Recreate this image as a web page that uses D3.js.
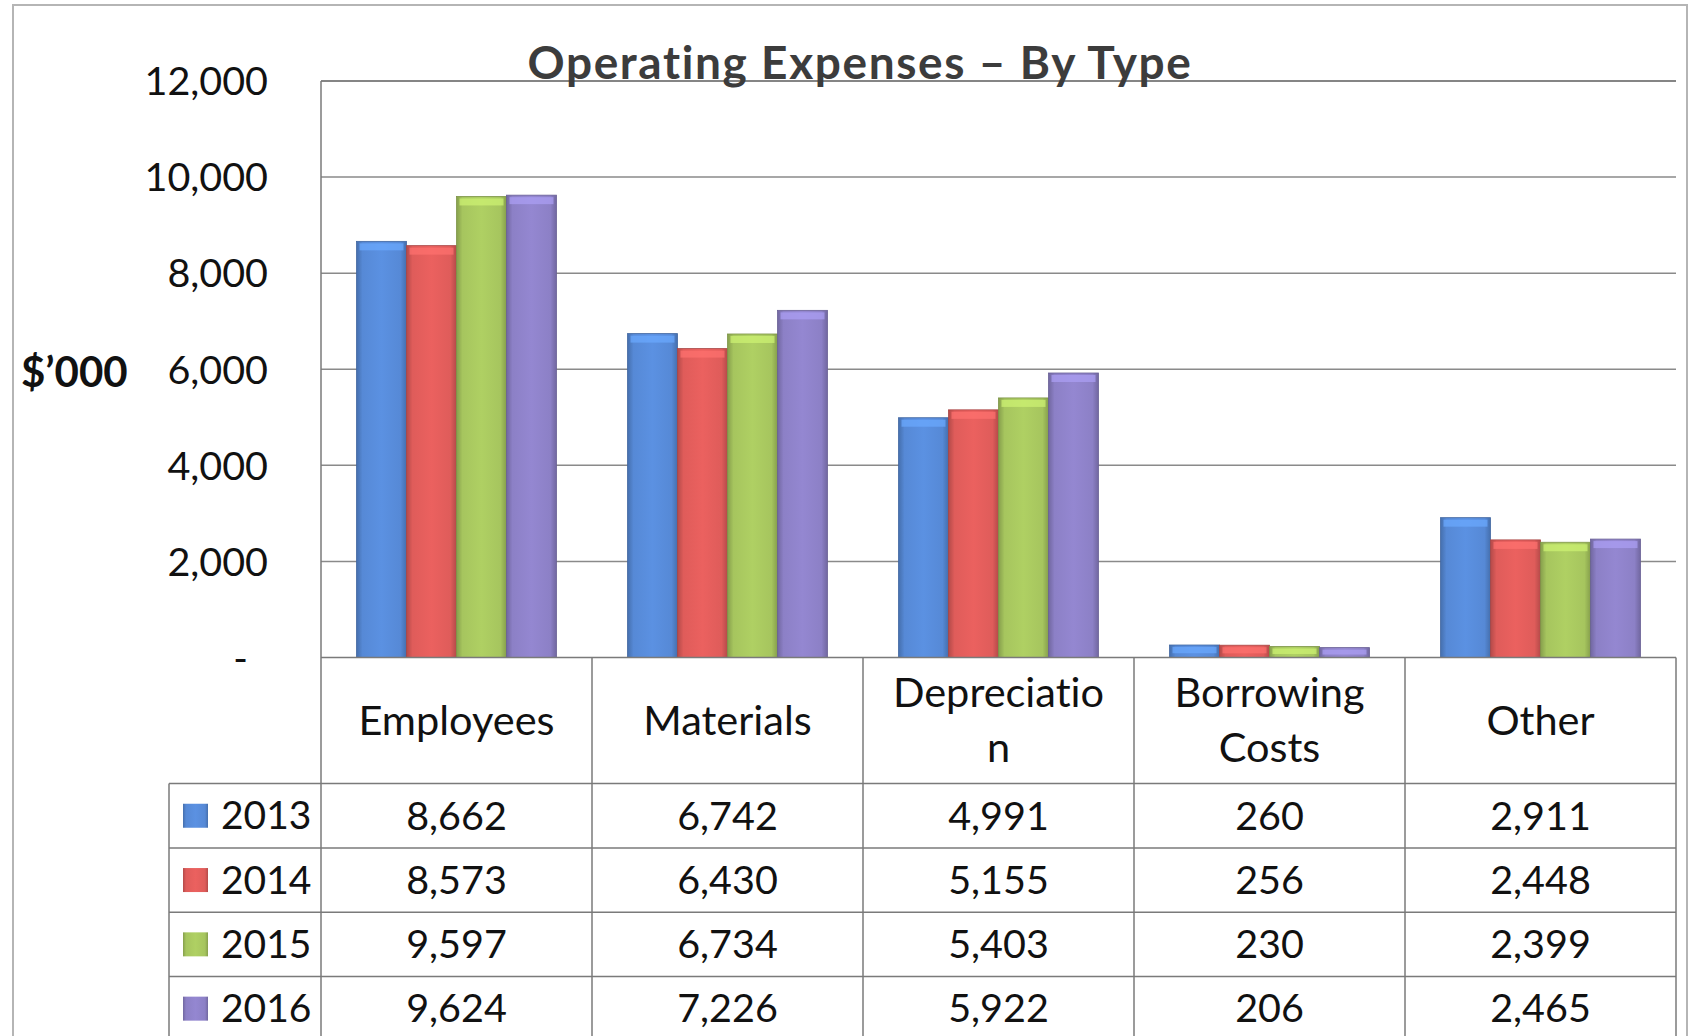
<!DOCTYPE html>
<html>
<head>
<meta charset="utf-8">
<script src="https://d3js.org/d3.v7.min.js"></script>
<style>
	body { margin: 0; background: #fff; }
	text { font-family: Lato, "Open Sans", sans-serif; fill: #111; font-variant-ligatures: none; }
	.title { font-weight: bold; fill: #3c3c3c; }
	.grid line { stroke: #8a8a8a; stroke-width: 1.5; }
	.tbl { stroke: #7a7a7a; stroke-width: 1.5; }
</style>
</head>
<body>
<script>

	var categories = ["Employees", "Materials", "Depreciation", "Borrowing Costs", "Other"];
	// header text as it wraps in the table
	var categoryLines = [["Employees"], ["Materials"], ["Depreciatio", "n"], ["Borrowing", "Costs"], ["Other"]];
	var years = ["2013", "2014", "2015", "2016"];
	var v2013 = [8662, 6742, 4991, 260, 2911];
	var v2014 = [8573, 6430, 5155, 256, 2448];
	var v2015 = [9597, 6734, 5403, 230, 2399];
	var v2016 = [9624, 7226, 5922, 206, 2465];
	var series = [v2013, v2014, v2015, v2016];
	var yTicks = [0, 2000, 4000, 6000, 8000, 10000, 12000];
	var colors = ["#5689d6", "#df5c5a", "#a6c55e", "#8c80c6"];

	var width = 1690,
	height = 1036;

	var svg = d3.select("body").append("svg")
	.attr("width", width)
	.attr("height", height);

	var defs = svg.append("defs");
	colors.forEach(function(c, i) {
		var g = defs.append("linearGradient")
		.attr("id", "bar" + i)
		.attr("x1", "0").attr("x2", "1").attr("y1", "0").attr("y2", "0");
		g.append("stop").attr("offset", "0").attr("stop-color", d3.color(c).darker(0.6));
		g.append("stop").attr("offset", "0.12").attr("stop-color", c);
		g.append("stop").attr("offset", "0.5").attr("stop-color", d3.color(c).brighter(0.15));
		g.append("stop").attr("offset", "0.88").attr("stop-color", c);
		g.append("stop").attr("offset", "1").attr("stop-color", d3.color(c).darker(0.6));
	});

	// outer frame
	svg.append("rect")
	.attr("x", 13).attr("y", 5)
	.attr("width", 1674).attr("height", 1040)
	.attr("fill", "none")
	.attr("stroke", "#b5b5b5")
	.attr("stroke-width", 2);

	var plotLeft = 321, plotRight = 1676;

	var x0 = d3.scaleBand()
	.domain(categories)
	.range([plotLeft, plotRight]);

	var x1 = d3.scaleBand()
	.domain(years)
	.range([0, x0.bandwidth()])
	.paddingOuter(0.71);

	var y = d3.scaleLinear()
	.domain([0, 12000])
	.range([657.5, 81]);

	// gridlines
	svg.append("g")
	.attr("class", "grid")
	.selectAll("line")
	.data(yTicks.filter(function(d) { return d > 0; }))
	.enter().append("line")
	.attr("x1", plotLeft).attr("x2", plotRight)
	.attr("y1", function(d) { return y(d); })
	.attr("y2", function(d) { return y(d); });

	// y axis labels
	var yAxis = d3.axisLeft(y)
	.tickValues(yTicks)
	.tickSize(0)
	.tickPadding(0)
	.tickFormat(function(d) { return d == 0 ? "-" : d3.format(",")(d); });

	var ya = svg.append("g")
	.attr("transform", "translate(268,0)")
	.call(yAxis);
	ya.select(".domain").remove();
	ya.selectAll("text")
	.attr("font-size", 39.5)
	.attr("font-family", "Lato")
	.attr("fill", "#111")
	.attr("dy", "0.35em")
	.attr("dx", function(d) { return d == 0 ? -20 : 0; });

	svg.append("text")
	.attr("x", 21).attr("y", 372)
	.attr("dy", "0.35em")
	.attr("font-size", 42)
	.attr("font-weight", "bold")
	.attr("fill", "#222")
	.text("$\u2019000");

	// bars
	var groups = svg.selectAll(".cat")
	.data(categories)
	.enter().append("g")
	.attr("class", "cat")
	.attr("transform", function(d) { return "translate(" + x0(d) + ",0)"; });

	groups.each(function(cat, ci) {
		var g = d3.select(this);
		years.forEach(function(yr, si) {
			var v = series[si][ci];
			var bx = x1(yr), bw = x1.bandwidth();
			g.append("rect")
			.attr("x", bx).attr("y", y(v))
			.attr("width", bw).attr("height", y(0) - y(v))
			.attr("fill", "url(#bar" + si + ")")
			.attr("stroke", d3.color(colors[si]).darker(0.8))
			.attr("stroke-width", 0.8);
			// bevel highlight on top
			g.append("rect")
			.attr("x", bx + 3).attr("y", y(v) + 2)
			.attr("width", bw - 6).attr("height", Math.min(7, (y(0) - y(v)) / 2))
			.attr("fill", d3.color(colors[si]).brighter(0.6))
			.attr("opacity", 0.7);
		});
	});

	// plot frame: top border
	svg.append("line").attr("class", "tbl")
	.attr("x1", plotLeft).attr("x2", plotRight).attr("y1", y(12000)).attr("y2", y(12000));

	// title
	svg.append("text")
	.attr("class", "title")
	.attr("x", 860).attr("y", 79)
	.attr("text-anchor", "middle")
	.attr("font-size", 46)
	.attr("letter-spacing", 1.6)
	.text("Operating Expenses \u2013 By Type");

	// data table
	var rowTop = 783.6, rowH = 64.3, legendLeft = 169;
	var rowY = years.map(function(d, i) { return rowTop + i * rowH; });

	svg.append("line").attr("class", "tbl")
	.attr("x1", plotLeft).attr("x2", plotLeft).attr("y1", y(12000)).attr("y2", height);
	svg.append("line").attr("class", "tbl")
	.attr("x1", plotLeft).attr("x2", plotRight).attr("y1", y(0)).attr("y2", y(0));

	svg.selectAll(".hline")
	.data(rowY)
	.enter().append("line")
	.attr("class", "tbl")
	.attr("x1", legendLeft).attr("x2", plotRight)
	.attr("y1", function(d) { return d; }).attr("y2", function(d) { return d; });

	svg.append("line").attr("class", "tbl")
	.attr("x1", legendLeft).attr("x2", legendLeft).attr("y1", rowTop).attr("y2", height);

	svg.selectAll(".vline")
	.data(categories)
	.enter().append("line")
	.attr("class", "tbl")
	.attr("x1", function(d) { return x0(d) + x0.bandwidth(); })
	.attr("x2", function(d) { return x0(d) + x0.bandwidth(); })
	.attr("y1", y(0)).attr("y2", height);

	// category headers
	categoryLines.forEach(function(lines, ci) {
		var cx = x0(categories[ci]) + x0.bandwidth() / 2;
		lines.forEach(function(t, li) {
			var cy = lines.length == 1 ? 720 : (li == 0 ? 692 : 747);
			svg.append("text")
			.attr("x", cx).attr("y", cy)
			.attr("dy", "0.35em")
			.attr("text-anchor", "middle")
			.attr("font-size", 41.5)
			.text(t);
		});
	});

	// legend keys and values
	years.forEach(function(yr, si) {
		var cy = rowY[si] + rowH / 2;
		svg.append("rect")
		.attr("x", 183).attr("y", cy - 12)
		.attr("width", 25).attr("height", 24)
		.attr("fill", "url(#bar" + si + ")");
		svg.append("text")
		.attr("x", 221).attr("y", cy)
		.attr("dy", "0.35em")
		.attr("font-size", 39)
		.text(yr);
		categories.forEach(function(cat, ci) {
			svg.append("text")
			.attr("x", x0(cat) + x0.bandwidth() / 2).attr("y", cy)
			.attr("dy", "0.35em")
			.attr("text-anchor", "middle")
			.attr("font-size", 39.5)
			.text(d3.format(",")(series[si][ci]));
		});
	});

</script>
</body>
</html>
